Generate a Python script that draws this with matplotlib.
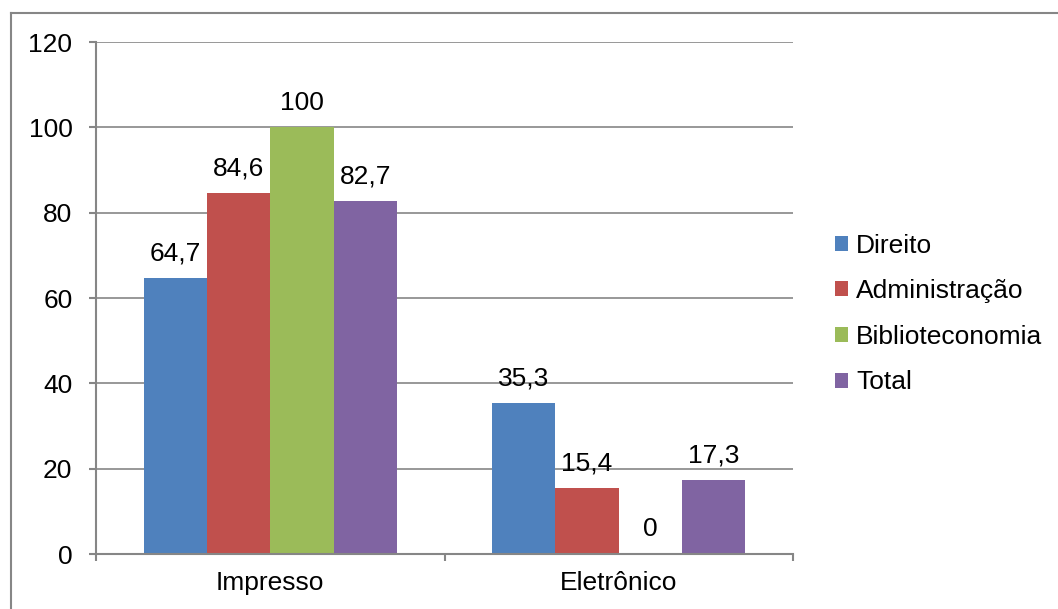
import matplotlib
matplotlib.use("Agg")
import matplotlib.pyplot as plt
from matplotlib.patches import Patch
from matplotlib.lines import Line2D
import numpy as np

plt.rcParams['font.family'] = ['Liberation Sans', 'DejaVu Sans']

categorias = ["Impresso", "Eletrônico"]
cursos = ["Direito", "Administração", "Biblioteconomia", "Total"]
valores = {
    "Direito": [64.7, 35.3],
    "Administração": [84.6, 15.4],
    "Biblioteconomia": [100, 0],
    "Total": [82.7, 17.3],
}
cores = ["#4F81BD", "#C0504D", "#9BBB59", "#8064A2"]
yticks = [0, 20, 40, 60, 80, 100, 120]

grid_cor = "#868686"
fs = 19

fig = plt.figure(figsize=(10.58, 6.09), dpi=100)
ax = fig.add_axes([96 / 1058, 55 / 609, 697 / 1058, 512 / 609])

x = np.arange(len(categorias))
w = 1 / 5.5
for i, curso in enumerate(cursos):
    pos = x + (i - 1.5) * w
    bars = ax.bar(pos, valores[curso], width=w, color=cores[i], zorder=3)
    for b, v in zip(bars, valores[curso]):
        txt = f"{v:g}".replace(".", ",")
        ax.annotate(txt, (b.get_x() + b.get_width() / 2, v),
                    xytext=(0, 9), textcoords="offset points",
                    ha="center", va="bottom", fontsize=fs)

ax.set_xlim(-0.5, 1.5)
ax.set_ylim(0, 120)
ax.set_yticks(yticks)
ax.set_yticklabels([str(t) for t in yticks], fontsize=fs)
ax.set_xticks(x)
ax.set_xticklabels(categorias, fontsize=fs)
ax.set_xticks([-0.5, 0.5, 1.5], minor=True)
ax.tick_params(axis="x", which="major", length=0, pad=12)
ax.tick_params(axis="x", which="minor", length=5, width=1.5, color=grid_cor)
ax.tick_params(axis="y", length=5, width=1.5, color=grid_cor, pad=12)
ax.grid(axis="y", color=grid_cor, linewidth=1.2, zorder=0)

for s in ["top", "right"]:
    ax.spines[s].set_visible(False)
for s in ["left", "bottom"]:
    ax.spines[s].set_color(grid_cor)
    ax.spines[s].set_linewidth(1.5)
    ax.spines[s].set_zorder(4)

handles = [Patch(facecolor=c, edgecolor="none") for c in cores]
fig.legend(handles, cursos, loc="center left", bbox_to_anchor=(835 / 1058, 1 - 314 / 609),
           frameon=False, fontsize=fs, handlelength=0.5, handleheight=0.5,
           handletextpad=0.3, labelspacing=0.82, borderaxespad=0, borderpad=0)

# moldura cinza do gráfico (somente topo e lado esquerdo aparecem)
fig.add_artist(Line2D([11 / 1058, 1.01], [1 - 13 / 609] * 2, color=grid_cor, lw=1.5,
                      transform=fig.transFigure))
fig.add_artist(Line2D([11 / 1058] * 2, [-0.01, 1 - 13 / 609], color=grid_cor, lw=1.5,
                      transform=fig.transFigure))

fig.savefig("out.png", dpi=100)
